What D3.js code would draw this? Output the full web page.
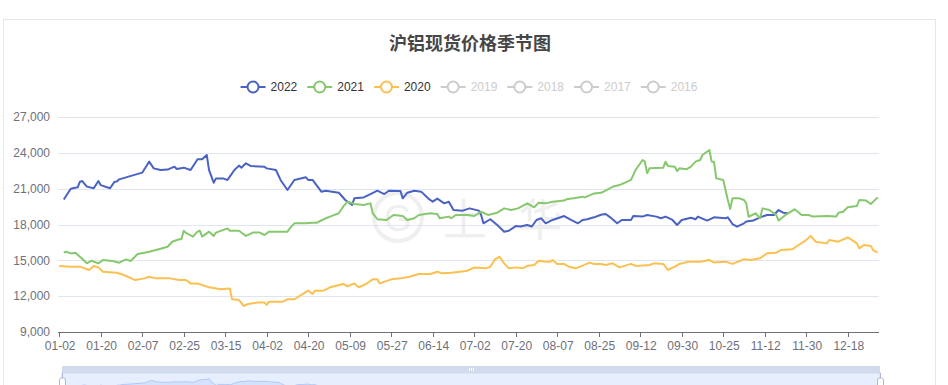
<!DOCTYPE html>
<html>
<head>
<meta charset="utf-8">
<script src="https://cdn.jsdelivr.net/npm/d3@7/dist/d3.min.js"></script>
<style>
body { margin: 0; background: #fff; }
svg text { font-family: "Liberation Sans", Arial, "Noto Sans CJK SC", sans-serif; }
</style>
</head>
<body>
<div id="chart"></div>
<script>
// chart data
var chartTitle = "沪铝现货价格季节图";
var legendNames = ["2022", "2021", "2020", "2019", "2018", "2017", "2016"];
var tickLabels = ["01-02", "01-20", "02-07", "02-25", "03-15", "04-02", "04-20", "05-09", "05-27", "06-14",
    "07-02", "07-20", "08-07", "08-25", "09-12", "09-30", "10-25", "11-12", "11-30", "12-18"];
var yTicks = [9000, 12000, 15000, 18000, 21000, 24000, 27000];

var dates2022 = ["01-04","01-07","01-10","01-11","01-12","01-14","01-17","01-19","01-20","01-24",
    "01-26","01-27","01-28","02-07","02-10","02-12","02-15","02-18","02-21","02-22",
    "02-25","02-28","03-03","03-05","03-07","03-08","03-10","03-11","03-14","03-16",
    "03-19","03-21","03-22","03-24","03-26","04-01","04-02","04-06","04-08","04-11",
    "04-14","04-19","04-20","04-22","04-26","04-28","05-04","05-07","05-10","05-11",
    "05-15","05-18","05-21","05-24","05-26","05-31","06-01","06-03","06-06","06-09",
    "06-12","06-14","06-16","06-19","06-21","06-23","06-27","06-30","07-04","07-05",
    "07-06","07-09","07-12","07-15","07-17","07-20","07-22","07-25","07-27","07-29",
    "07-31","08-02","08-05","08-10","08-11","08-13","08-16","08-18","08-20","08-23",
    "08-26","08-28","08-30","09-02","09-04","09-08","09-09","09-13","09-15","09-19",
    "09-21","09-23","09-26","09-28","09-30","10-11","10-13","10-14","10-18","10-21",
    "10-26","10-27","10-29","10-31","11-03","11-04","11-07","11-10","11-13","11-16",
    "11-18","11-20","11-22"];
var values2022 = [20100,21000,21110,21580,21640,21170,21030,21640,21300,21030,
    21580,21600,21780,22340,23260,22700,22560,22600,22840,22650,
    22760,22560,23460,23460,23820,22560,21500,21860,21860,21730,
    22560,22930,22760,23120,22900,22840,22700,22560,21730,20890,
    21730,21950,21730,21730,20750,20830,20660,20050,19630,20190,
    20270,20550,20830,20550,20830,20800,20190,20660,20830,20750,
    20190,19910,20170,19770,19910,19210,19160,19350,19160,18800,
    18100,18440,17960,17400,17480,17870,17830,17960,17830,18380,
    18520,18100,18380,18710,18600,18380,18100,18380,18440,18600,
    18820,18880,18600,18100,18380,18380,18710,18660,18800,18660,
    18520,18660,18380,17960,18380,18570,18440,18660,18330,18600,
    18520,18600,18040,17820,18100,18250,18330,18600,18800,18800,
    19210,18990,18940];

var dates2021 = ["01-04","01-05","01-07","01-09","01-11","01-14","01-16","01-19","01-21","01-25",
    "01-28","01-31","02-02","02-05","02-08","02-10","02-15","02-18","02-20","02-23",
    "02-24","02-25","02-26","03-01","03-03","03-04","03-05","03-08","03-10","03-11",
    "03-16","03-17","03-21","03-24","03-27","03-30","04-01","04-03","04-08","04-11",
    "04-12","04-14","04-19","04-22","04-24","04-25","04-28","04-30","05-04","05-06",
    "05-08","05-11","05-15","05-18","05-19","05-21","05-25","05-28","06-01","06-03",
    "06-06","06-08","06-13","06-16","06-17","06-21","06-22","06-24","06-29","07-02",
    "07-05","07-08","07-12","07-15","07-18","07-21","07-25","07-28","07-30","08-02",
    "08-05","08-10","08-11","08-14","08-18","08-19","08-23","08-26","08-28","08-31",
    "09-03","09-08","09-10","09-13","09-14","09-15","09-16","09-22","09-23","09-24",
    "09-27","09-28","09-29","10-09","10-11","10-13","10-15","10-16","10-19","10-20",
    "10-21","10-22","10-25","10-26","10-27","10-28","10-29","11-01","11-03","11-04",
    "11-05","11-08","11-10","11-11","11-14","11-17","11-18","11-21","11-25","11-28",
    "12-01","12-03","12-09","12-13","12-14","12-16","12-18","12-22","12-23","12-26",
    "12-28","12-31"];
var values2021 = [15640,15720,15580,15640,15300,14750,14970,14750,15030,14940,
    14800,15080,14940,15530,15640,15720,15970,16140,16560,16760,
    16760,17480,17290,16980,17400,17480,16980,17400,17040,17320,
    17680,17480,17480,17040,17320,17320,17120,17400,17400,17400,
    17680,18100,18100,18150,18150,18250,18520,18660,18940,19490,
    19910,19720,19630,19770,18940,18440,18380,18800,18710,18380,
    18520,18800,18940,18880,18520,18660,18520,18800,18800,18710,
    19070,18800,18990,19350,19210,19350,19770,19440,19830,19770,
    19910,20000,20110,20190,20330,20270,20600,20650,20830,21160,
    21300,21730,22560,23400,23260,22290,22700,22760,23260,22900,
    22840,22480,22700,22620,22840,23260,23400,23820,24240,23260,
    23260,21860,21730,20890,20050,19300,20190,20190,20050,19770,
    18650,18940,18520,19350,19210,18800,18330,18800,19270,18800,
    18800,18660,18710,18660,18990,19070,19440,19550,20050,20000,
    19720,20270];

var dates2020 = ["01-02","01-07","01-11","01-15","01-17","01-19","01-21","01-27","01-30","02-04",
    "02-08","02-10","02-13","02-19","02-23","02-26","02-28","03-03","03-05","03-08",
    "03-13","03-17","03-18","03-21","03-23","03-25","03-29","04-01","04-02","04-03",
    "04-09","04-11","04-14","04-17","04-20","04-22","04-23","04-27","04-30","05-06",
    "05-08","05-11","05-13","05-16","05-19","05-21","05-22","05-27","05-31","06-04",
    "06-08","06-13","06-16","06-18","06-22","06-26","06-29","07-02","07-07","07-09",
    "07-11","07-13","07-15","07-17","07-20","07-23","07-25","07-28","07-30","08-02",
    "08-04","08-05","08-07","08-10","08-12","08-15","08-17","08-21","08-23","08-26",
    "08-28","08-31","09-02","09-03","09-08","09-10","09-16","09-18","09-22","09-24",
    "09-27","09-29","10-10","10-15","10-19","10-21","10-26","10-29","11-03","11-06",
    "11-10","11-13","11-17","11-19","11-24","11-26","11-29","12-02","12-04","12-09",
    "12-10","12-14","12-18","12-22","12-23","12-25","12-28","12-29","12-31"];
var values2020 = [14530,14470,14470,14190,14530,14410,14050,13960,13770,13350,
    13490,13630,13490,13490,13350,13350,13070,13070,12930,12740,
    12570,12650,11740,11670,11180,11350,11460,11460,11270,11540,
    11540,11740,11740,12100,12460,12180,12460,12460,12740,13020,
    12830,13070,12740,13020,13410,13410,13070,13410,13490,13630,
    13860,13860,14050,13910,13960,14050,14130,14410,14330,14470,
    15090,15300,14750,14330,14410,14330,14530,14610,14970,14890,
    14890,15030,14700,14700,14470,14330,14470,14810,14700,14700,
    14610,14750,14530,14410,14700,14530,14610,14750,14700,14190,
    14470,14700,14890,14890,15030,14810,14890,14700,15090,15030,
    15170,15590,15640,15860,15920,16200,16560,17040,16560,16420,
    16700,16560,16930,16420,16000,16280,16200,15860,15640];

var seriesColors = ["#4a62c2", "#86c86d", "#fbc04f"];
var offColor = "#cccccc";

var series = [
    { name: "2022", dates: dates2022, values: values2022 },
    { name: "2021", dates: dates2021, values: values2021 },
    { name: "2020", dates: dates2020, values: values2020 }
];

var W = 948, H = 385;
var svg = d3.select("#chart").append("svg")
    .attr("width", W)
    .attr("height", H);

// card border
svg.append("rect")
    .attr("x", 3.5).attr("y", 19.5)
    .attr("width", 932).attr("height", 420)
    .attr("fill", "#fff")
    .attr("stroke", "#e6e6e6");

// x: category axis of MM-DD, label every 18 categories; golden week gap collapsed
var parse = d3.timeParse("%Y-%m-%d");
function dayOf(md) {
    var d = parse("2021-" + md);
    return d3.timeDay.count(d3.timeYear(d), d);
}
var lastIdx = tickLabels.length - 1 + (dayOf("12-31") - dayOf("12-18")) / 18;
var knots = tickLabels.map(function(t, i) { return [dayOf(t), i]; });
knots.push([dayOf("10-07"), tickLabels.indexOf("09-30")]);
knots.push([dayOf("12-31"), lastIdx]);
knots.sort(function(a, b) { return a[0] - b[0]; });
var dayToIdx = d3.scaleLinear()
    .domain(knots.map(function(k) { return k[0]; }))
    .range(knots.map(function(k) { return k[1]; }));

var plotLeft = 59.2, plotRight = 877.7, plotTop = 117, plotBottom = 332;
var x = d3.scaleLinear().domain([0, lastIdx]).range([plotLeft, plotRight]);
var y = d3.scaleLinear().domain([9000, 27000]).range([plotBottom, plotTop]);
function xDate(md) { return x(dayToIdx(dayOf(md))); }

// watermark
var wm = svg.append("g").attr("opacity", 0.9);
wm.append("circle")
    .attr("cx", 398).attr("cy", 217).attr("r", 24)
    .attr("fill", "none")
    .attr("stroke", "#eeeeee")
    .attr("stroke-width", 4);
wm.append("text")
    .attr("x", 398).attr("y", 231)
    .attr("text-anchor", "middle")
    .attr("font-size", 36)
    .attr("fill", "#eeeeee")
    .text("G");
wm.append("text")
    .attr("x", 465).attr("y", 236)
    .attr("text-anchor", "middle")
    .attr("font-size", 44)
    .style("font-family", "'Noto Sans CJK SC'")
    .attr("fill", "#eeeeee")
    .text("上");
wm.append("text")
    .attr("x", 540).attr("y", 236)
    .attr("text-anchor", "middle")
    .attr("font-size", 44)
    .style("font-family", "'Noto Sans CJK SC'")
    .attr("fill", "#eeeeee")
    .text("华");

// grid + y labels
svg.append("g")
    .selectAll("line")
    .data(yTicks.slice(1))
    .enter()
    .append("line")
    .attr("x1", 58).attr("x2", 879)
    .attr("y1", function(d) { return Math.round(y(d)) + 0.5; })
    .attr("y2", function(d) { return Math.round(y(d)) + 0.5; })
    .attr("stroke", "#e0e6f1");

var fmt = d3.format(",");
svg.append("g")
    .selectAll("text")
    .data(yTicks)
    .enter()
    .append("text")
    .attr("x", 50)
    .attr("y", function(d) { return y(d); })
    .attr("dy", "0.35em")
    .attr("text-anchor", "end")
    .attr("font-size", 12)
    .attr("fill", "#6e7079")
    .text(function(d) { return fmt(d); });

// x axis
var xg = svg.append("g");
xg.append("line")
    .attr("x1", 58).attr("x2", 879)
    .attr("y1", plotBottom + 0.5).attr("y2", plotBottom + 0.5)
    .attr("stroke", "#6e7079");
xg.selectAll(".tk")
    .data(tickLabels)
    .enter()
    .append("line")
    .attr("class", "tk")
    .attr("x1", function(d) { return Math.round(xDate(d)) + 0.5; })
    .attr("x2", function(d) { return Math.round(xDate(d)) + 0.5; })
    .attr("y1", plotBottom).attr("y2", plotBottom + 5)
    .attr("stroke", "#6e7079");
xg.selectAll(".tl")
    .data(tickLabels)
    .enter()
    .append("text")
    .attr("class", "tl")
    .attr("x", function(d) { return xDate(d) + 1; })
    .attr("y", 350)
    .attr("text-anchor", "middle")
    .attr("font-size", 12)
    .attr("fill", "#6e7079")
    .text(function(d) { return d; });

// lines
var line = d3.line()
    .x(function(d) { return xDate(d[0]); })
    .y(function(d) { return y(d[1]); });

series.forEach(function(s, i) {
    var pts = s.dates.map(function(d, j) { return [d, s.values[j]]; });
    svg.append("path")
        .datum(pts)
        .attr("d", line)
        .attr("fill", "none")
        .attr("stroke", seriesColors[i])
        .attr("stroke-width", 2)
        .attr("stroke-linejoin", "round");
});

// title
svg.append("text")
    .attr("x", 470).attr("y", 50)
    .attr("text-anchor", "middle")
    .attr("font-size", 18)
    .attr("font-weight", "bold")
    .style("font-family", "'Noto Sans CJK SC', sans-serif")
    .attr("fill", "#464646")
    .text(chartTitle);

// legend
var lg = svg.append("g");
var items = lg.selectAll("g")
    .data(legendNames)
    .enter()
    .append("g");
items.append("text")
    .attr("font-size", 12)
    .attr("dy", "0.35em")
    .attr("fill", function(d, i) { return i < series.length ? "#333" : offColor; })
    .text(function(d) { return d; });
var widths = [];
items.select("text").each(function() { widths.push(this.getComputedTextLength()); });
var total = d3.sum(widths) + legendNames.length * 30 + (legendNames.length - 1) * 10;
var cx = 469 - total / 2;
items.each(function(d, i) {
    var g = d3.select(this);
    var c = i < series.length ? seriesColors[i] : offColor;
    g.attr("transform", "translate(" + cx + ",87)");
    g.append("line")
        .attr("x1", 0).attr("x2", 25)
        .attr("stroke", c).attr("stroke-width", 2);
    g.append("circle")
        .attr("cx", 12.5).attr("r", 5.5)
        .attr("fill", "#fff")
        .attr("stroke", c).attr("stroke-width", 2);
    g.select("text").attr("x", 30).raise();
    cx += 30 + widths[i] + 10;
});

// data zoom slider (only its top shows)
var zx0 = 62, zx1 = 880, zTop = 366, zh = 7, zBody = 30;
var zg = svg.append("g");
zg.append("rect")
    .attr("x", zx0).attr("y", zTop + zh)
    .attr("width", zx1 - zx0).attr("height", zBody)
    .attr("fill", "rgb(231,239,255)")
    .attr("stroke", "#d2dbee");
var ext = d3.extent(values2022);
var off = (ext[1] - ext[0]) * 0.3;
var sy = d3.scaleLinear().domain([ext[0] - off, ext[1] + off]).range([zTop + zh + zBody, zTop + zh]);
var sx = d3.scaleLinear().domain([plotLeft, plotRight]).range([zx0, zx1]);
var shadow = d3.area()
    .x(function(d) { return sx(xDate(d[0])); })
    .y0(zTop + zh + zBody)
    .y1(function(d) { return sy(d[1]); });
zg.append("path")
    .datum(dates2022.map(function(d, j) { return [d, values2022[j]]; }))
    .attr("d", shadow)
    .attr("fill", "rgba(143,176,247,0.2)")
    .attr("stroke", "#a9c0f2")
    .attr("stroke-width", 0.8);
zg.append("rect")
    .attr("x", zx0).attr("y", zTop)
    .attr("width", zx1 - zx0).attr("height", zh)
    .attr("fill", "#d2dbee");
[-2, 0, 2].forEach(function(dx) {
    zg.append("line")
        .attr("x1", 471 + dx + 0.5).attr("x2", 471 + dx + 0.5)
        .attr("y1", zTop + 2).attr("y2", zTop + 5)
        .attr("stroke", "#fff");
});
[zx0, zx1].forEach(function(hx) {
    zg.append("line")
        .attr("x1", hx + 0.5).attr("x2", hx + 0.5)
        .attr("y1", zTop + zh).attr("y2", zTop + zh + 5)
        .attr("stroke", "#acb8d1");
    zg.append("rect")
        .attr("x", hx - 2.5).attr("y", zTop + zh + 5)
        .attr("width", 6).attr("height", 18)
        .attr("rx", 2)
        .attr("fill", "#fff")
        .attr("stroke", "#acb8d1");
});
</script>
</body>
</html>
